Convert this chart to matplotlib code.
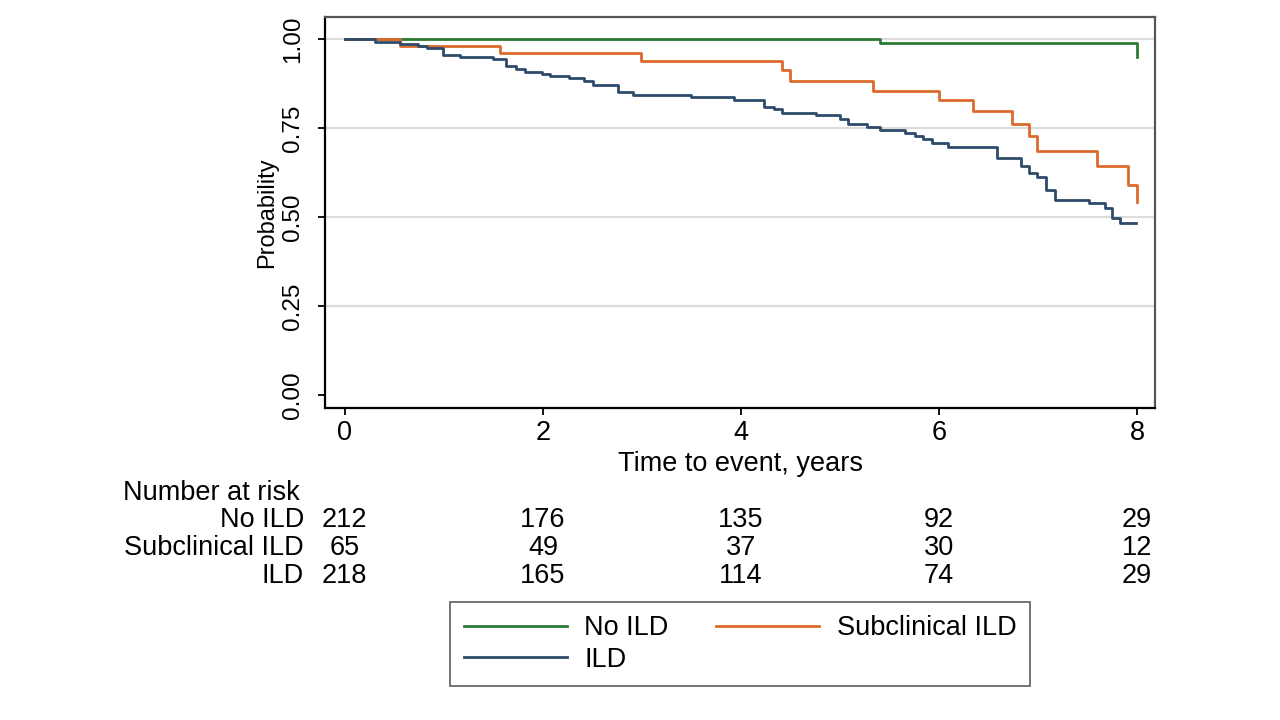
import matplotlib
matplotlib.use("Agg")
import matplotlib.pyplot as plt
from matplotlib.transforms import blended_transform_factory
import numpy as np

plt.rcParams['font.family'] = ['Liberation Sans', 'DejaVu Sans']

# Kaplan-Meier step curves (time in years, survival probability)
no_ild_t = [0, 5.40, 8.0]
no_ild_s = [1.0, 0.988, 0.950]

sub_t = [0, 0.56, 1.57, 2.99, 4.41, 4.49, 5.33, 6.00, 6.34, 6.74, 6.91, 6.99, 7.59, 7.91, 8.0]
sub_s = [1.0, 0.980, 0.961, 0.938, 0.913, 0.882, 0.855, 0.829, 0.799, 0.760, 0.728, 0.685, 0.644, 0.590, 0.543]

ild_t = [0, 0.30, 0.56, 0.74, 0.83, 0.99, 1.16, 1.50, 1.63, 1.73, 1.82, 1.99,
         2.07, 2.26, 2.42, 2.51, 2.76, 2.91, 3.50, 3.93, 4.23, 4.33, 4.41, 4.76,
         5.00, 5.08, 5.27, 5.40, 5.66, 5.76, 5.84, 5.93, 6.09, 6.58, 6.83, 6.91,
         6.99, 7.08, 7.17, 7.51, 7.68, 7.75, 7.83, 7.99]
ild_s = [1.0, 0.992, 0.986, 0.980, 0.976, 0.956, 0.949, 0.944, 0.924, 0.917, 0.907, 0.902,
         0.896, 0.890, 0.881, 0.871, 0.852, 0.844, 0.838, 0.829, 0.810, 0.803, 0.792, 0.787,
         0.776, 0.760, 0.754, 0.744, 0.735, 0.728, 0.719, 0.707, 0.697, 0.667, 0.644, 0.623,
         0.611, 0.576, 0.549, 0.540, 0.524, 0.496, 0.482, 0.482]

# number at risk table
risk_times = [0, 2, 4, 6, 8]
risk_groups = ['No ILD', 'Subclinical ILD', 'ILD']
risk_no_ild = [212, 176, 135, 92, 29]
risk_sub = [65, 49, 37, 30, 12]
risk_ild = [218, 165, 114, 74, 29]

x_ticks = [0, 2, 4, 6, 8]
y_ticks = [0.0, 0.25, 0.5, 0.75, 1.0]
y_labels = ['0.00', '0.25', '0.50', '0.75', '1.00']

c_green = '#2b7a34'
c_orange = '#dc6a2c'
c_blue = '#2e4b6b'

W, H = 1280, 720
fs = 19.5
fig = plt.figure(figsize=(12.8, 7.2), dpi=100)
ax = fig.add_axes([325 / W, 1 - 408 / H, (1155 - 325) / W, (408 - 17) / H])

for yy in y_ticks[1:]:
    ax.axhline(yy, color='#dcdcdc', lw=1.5, zorder=0)

l1, = ax.step(no_ild_t, no_ild_s, where='post', color=c_green, lw=2.0, label='No ILD')
l2, = ax.step(sub_t, sub_s, where='post', color=c_orange, lw=2.0, label='Subclinical ILD')
l3, = ax.step(ild_t, ild_s, where='post', color=c_blue, lw=2.0, label='ILD')

ax.set_xlim(-0.2, 8.18)
ax.set_ylim(-0.037, 1.062)
ax.set_xticks(x_ticks)
ax.set_xticklabels([str(v) for v in x_ticks], fontsize=fs)
ax.set_yticks(y_ticks)
ax.set_yticklabels(y_labels, rotation=90, va='center', fontsize=17.5)
ax.tick_params(axis='both', length=5, width=1.3, color='black')
ax.tick_params(axis='y', pad=10)
ax.tick_params(axis='x', pad=4)
ax.set_xlabel('Time to event, years', fontsize=fs, labelpad=3)
ax.set_ylabel('Probability', fontsize=17, labelpad=3)

for s in ['left', 'bottom']:
    ax.spines[s].set_color('black')
    ax.spines[s].set_linewidth(1.6)
for s in ['top', 'right']:
    ax.spines[s].set_color('#555555')
    ax.spines[s].set_linewidth(1.6)

# number at risk
tr = blended_transform_factory(ax.transData, fig.transFigure)
fig.text(123 / W, 1 - 493 / H, 'Number at risk', fontsize=fs, ha='left', va='center')
rows = [risk_no_ild, risk_sub, risk_ild]
row_y = [520, 548, 576]
for name, vals, py in zip(risk_groups, rows, row_y):
    fig.text(304 / W, 1 - py / H, name, fontsize=fs, ha='right', va='center')
    for t, v in zip(risk_times, vals):
        ax.text(t, 1 - py / H, str(v), transform=tr, fontsize=fs, ha='center', va='center')

leg = fig.legend([l1, l3, l2], ['No ILD', 'ILD', 'Subclinical ILD'], ncol=2,
                 loc='center', bbox_to_anchor=(740 / W, 1 - 644 / H),
                 fontsize=fs, frameon=True, fancybox=False, edgecolor='#333333',
                 handlelength=3.8, handletextpad=0.65, columnspacing=1.75,
                 labelspacing=0.2, borderpad=0.5, borderaxespad=0)
leg.get_frame().set_linewidth(1.2)

fig.savefig('out.png', dpi=100)
